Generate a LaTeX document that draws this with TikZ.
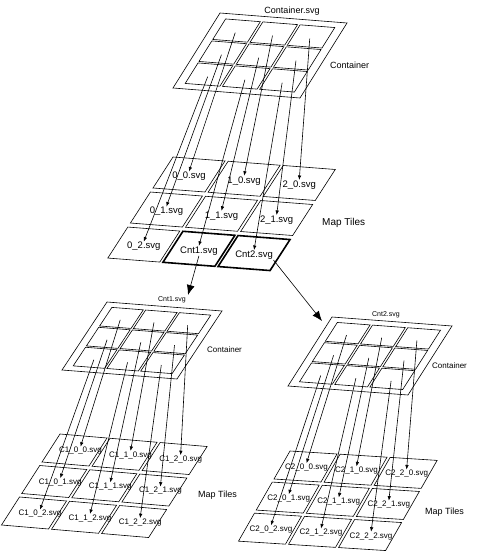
\documentclass[tikz,border=0pt]{standalone}
\usepackage{fontspec}
\setmainfont{Liberation Sans}
\usetikzlibrary{arrows.meta}
\tikzset{
  edge/.style={line width=0.6pt},
  boldedge/.style={line width=1.6pt},
  smallarrow/.style={line width=0.6pt,-{Latex[length=4.5pt,width=3.5pt]}},
  bigarrow/.style={line width=0.6pt,-{Latex[length=10pt,width=8pt]}},
  tlabel/.style={inner sep=0.5pt,font=\fontsize{9.5}{10}\selectfont},
  slabel/.style={inner sep=0.5pt,font=\fontsize{8}{9}\selectfont},
  caption/.style={inner sep=0pt,anchor=west},
}
\newcommand{\mkcontainer}[4]{%
  \begin{scope}[shift={#2},x={#3},y={#4}]
    \draw[edge] (0,0) -- (1,0) -- (1,1) -- (0,1) -- cycle;
    \foreach \i in {0,1,2}{\foreach \j in {0,1,2}{%
      \pgfmathsetmacro\sa{0.07+\i*0.2933}%
      \pgfmathsetmacro\sb{\sa+0.2733}%
      \pgfmathsetmacro\ta{0.07+\j*0.2933}%
      \pgfmathsetmacro\tb{\ta+0.2733}%
      \draw[edge] (\sa,\ta) -- (\sb,\ta) -- (\sb,\tb) -- (\sa,\tb) -- cycle;
      \coordinate (#1c\i\j) at ({\sa+0.137},{\ta+0.165});
    }}
  \end{scope}}
\newcommand{\mktiles}[8]{%
  \begin{scope}[shift={#2},x={#3},y={#4}]
    \foreach \i in {0,1,2}{\foreach \j in {0,1,2}{%
      \pgfmathsetmacro\sa{\i*#5}%
      \pgfmathsetmacro\ta{\j*#6}%
      \draw[edge] (\sa,\ta) -- ++(1,0) -- ++(0,1) -- ++(-1,0) -- cycle;
      \node[slabel,xshift=#8pt,yshift=-1pt] (#1\i\j) at ({\sa+0.5},{\ta+0.5}) {#7\i\_\j.svg};
    }}
  \end{scope}}
\begin{document}
\begin{tikzpicture}[x=1pt,y=-1pt]
\useasboundingbox (0,0) rectangle (476,556);

% ---------------- top group ----------------
\mkcontainer{A}{(220,13)}{(127pt,-10pt)}{(-47pt,-75pt)}
\node[inner sep=0pt,font=\fontsize{9}{10}\selectfont] (topname) at (292,11) {Container.svg};
\node[caption,font=\fontsize{9}{10}\selectfont] (topcont) at (330,65) {Container};

\begin{scope}[shift={(173,157)},x={(52pt,-4pt)},y={(-20pt,-31pt)}]
  \foreach \i/\j/\txt/\st in {0/0/0\_0.svg/edge,1/0/1\_0.svg/edge,2/0/2\_0.svg/edge,
      0/1/0\_1.svg/edge,1/1/1\_1.svg/edge,2/1/2\_1.svg/edge,
      0/2/0\_2.svg/edge,1/2/Cnt1.svg/boldedge,2/2/Cnt2.svg/boldedge}{%
    \pgfmathsetmacro\sa{\i*1.06}%
    \pgfmathsetmacro\ta{\j*1.13}%
    \draw[\st] (\sa,\ta) -- ++(1,0) -- ++(0,1) -- ++(-1,0) -- cycle;
    \node[tlabel,yshift=-2pt] (A\i\j) at ({\sa+0.5},{\ta+0.5}) {\txt};
  }
\end{scope}
\node[caption,font=\fontsize{10}{11}\selectfont] (toptiles) at (322,223) {Map Tiles};

\foreach \i in {0,1,2}{\foreach \j in {0,1,2}{%
  \draw[smallarrow] (Ac\i\j) -- (A\i\j.north);}}

% ---------------- group C1 ----------------
\mkcontainer{B}{(107,302)}{(115pt,-9pt)}{(-45pt,-68pt)}
\node[inner sep=0pt,font=\fontsize{7}{8}\selectfont] (c1name) at (172,300) {Cnt1.svg};
\node[caption,font=\fontsize{8}{9}\selectfont] (c1cont) at (207,350) {Container};
\mktiles{B}{(60,434)}{(47pt,-4pt)}{(-18pt,-28pt)}{1.065}{1.125}{C1\_}{6}
\node[caption,font=\fontsize{9}{10}\selectfont] (c1tiles) at (198,495) {Map Tiles};
\foreach \i in {0,1,2}{\foreach \j in {0,1,2}{%
  \draw[smallarrow] (Bc\i\j) -- (B\i\j.north);}}

% ---------------- group C2 ----------------
\mkcontainer{C}{(332,317)}{(120pt,-9pt)}{(-44pt,-69pt)}
\node[inner sep=0pt,font=\fontsize{7}{8}\selectfont] (c2name) at (386,315) {Cnt2.svg};
\node[caption,font=\fontsize{8}{9}\selectfont] (c2cont) at (432,366) {Container};
\mktiles{C}{(290,451)}{(47pt,-3pt)}{(-16pt,-28pt)}{1.065}{1.11}{C2\_}{1}
\node[caption,font=\fontsize{9}{10}\selectfont] (c2tiles) at (425,512) {Map Tiles};
\foreach \i in {0,1,2}{\foreach \j in {0,1,2}{%
  \draw[smallarrow] (Cc\i\j) -- (C\i\j.north);}}

% ---------------- links to sub containers ----------------
\coordinate (c1tip) at (188,295);
\coordinate (c2tip) at (322,321);
\draw[bigarrow] (A12.south) -- (c1tip);
\draw[bigarrow] (A22.south east) -- (c2tip);
\end{tikzpicture}
\end{document}
